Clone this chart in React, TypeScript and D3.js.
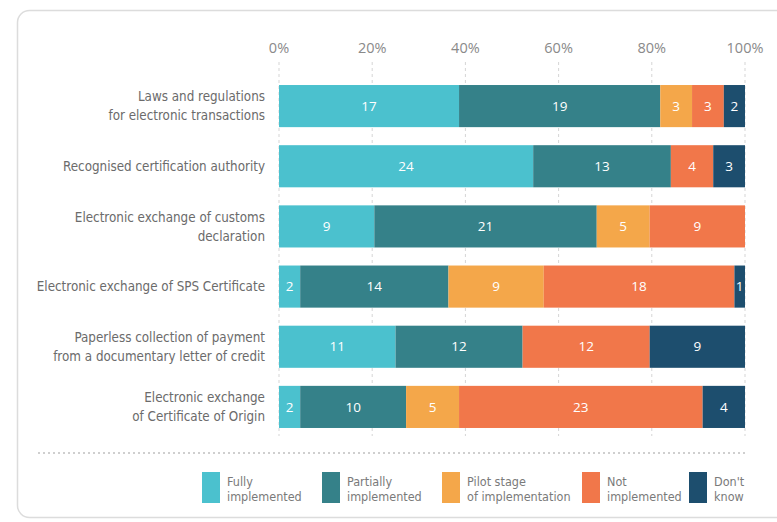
import React, {useEffect, useRef} from 'react';
import * as d3 from "d3";

const categories = [
  ["Laws and regulations", "for electronic transactions"],
  ["Recognised certification authority"],
  ["Electronic exchange of customs", "declaration"],
  ["Electronic exchange of SPS Certificate"],
  ["Paperless collection of payment", "from a documentary letter of credit"],
  ["Electronic exchange", "of Certificate of Origin"],
]

const seriesNames = ["Fully implemented", "Partially implemented", "Pilot stage of implementation", "Not implemented", "Don't know"]
const legendLines = [["Fully", "implemented"], ["Partially", "implemented"], ["Pilot stage", "of implementation"], ["Not", "implemented"], ["Don't", "know"]]
const colors = ["#4bc1ce", "#358189", "#f4a74a", "#f1774a", "#1d4e6e"]

const fully = [17, 24, 9, 2, 11, 2]
const partially = [19, 13, 21, 14, 12, 10]
const pilot = [3, 0, 5, 9, 0, 5]
const notImpl = [3, 4, 9, 18, 12, 23]
const dontKnow = [2, 3, 0, 1, 9, 4]

const tickValues = [0, 0.2, 0.4, 0.6, 0.8, 1]

const labelFont = "'DejaVu Sans Condensed', Roboto, sans-serif"
const numFont = "'Open Sans', sans-serif"

const App = () => {
  const chart = useRef(null)

  useEffect(() => {
    const width = 777
    const height = 522
    const left = 279
    const right = 745

    const svg = d3.select(chart.current)
      .attr("width", width)
      .attr("height", height)

    svg.selectAll("*").remove()

    // card
    svg.append("rect")
      .attr("x", 17.5).attr("y", 10.5)
      .attr("width", 820).attr("height", 507)
      .attr("rx", 12)
      .attr("fill", "#fff")
      .attr("stroke", "#dcdcdc")
      .attr("stroke-width", 1.5)

    const rows = categories.map((c, i) => ({
      label: c,
      values: [fully[i], partially[i], pilot[i], notImpl[i], dontKnow[i]],
    }))

    const x = d3.scaleLinear().domain([0, 1]).range([left, right])
    const y = d3.scaleBand().domain(d3.range(rows.length)).range([76, 437]).paddingInner(0.3).paddingOuter(0.15)

    const g = svg.append("g")

    // grid
    g.selectAll(".grid").data(tickValues).join("line")
      .attr("x1", d => x(d)).attr("x2", d => x(d))
      .attr("y1", 62).attr("y2", 436)
      .attr("stroke", "#d5d5d5")
      .attr("stroke-dasharray", "3,3")

    g.selectAll(".tick").data(tickValues).join("text")
      .attr("x", d => x(d))
      .attr("y", 53)
      .attr("text-anchor", "middle")
      .attr("font-family", numFont)
      .attr("font-size", 14.5)
      .attr("fill", "#8a8a8a")
      .text(d => d3.format(".0%")(d))

    rows.forEach((r, i) => {
      const total = d3.sum(r.values)
      let acc = 0
      const y0 = y(i)
      const bh = y.bandwidth()
      r.values.forEach((v, k) => {
        if (!v) return
        const x0 = x(acc / total)
        const x1 = x((acc + v) / total)
        acc += v
        g.append("rect")
          .attr("x", x0).attr("y", y0)
          .attr("width", x1 - x0).attr("height", bh)
          .attr("fill", colors[k])
        g.append("text")
          .attr("x", (x0 + x1) / 2)
          .attr("y", y0 + bh / 2)
          .attr("dy", "0.35em")
          .attr("text-anchor", "middle")
          .attr("font-family", numFont)
          .attr("font-size", 13.5)
          .attr("fill", "#fff")
          .text(v)
      })

      const lines = r.label
      const t = g.append("text")
        .attr("text-anchor", "end")
        .attr("font-family", labelFont)
        .attr("font-size", 13.3)
        .attr("fill", "#6b6b6b")
      lines.forEach((l, j) => {
        t.append("tspan")
          .attr("x", 265)
          .attr("y", y0 + bh / 2 + (j - (lines.length - 1) / 2) * 19)
          .attr("dy", "0.35em")
          .text(l)
      })
    })

    // dotted separator
    svg.append("line")
      .attr("x1", 38).attr("x2", 745)
      .attr("y1", 453).attr("y2", 453)
      .attr("stroke", "#cfcfcf")
      .attr("stroke-width", 2)
      .attr("stroke-dasharray", "2,3")

    const legendX = [202, 322, 442, 582, 689]
    const lg = svg.append("g")
    seriesNames.forEach((s, k) => {
      lg.append("rect")
        .attr("x", legendX[k]).attr("y", 472)
        .attr("width", 18).attr("height", 31)
        .attr("fill", colors[k])
      const t = lg.append("text")
        .attr("font-family", labelFont)
        .attr("font-size", 12.5)
        .attr("fill", "#7a7a7a")
      legendLines[k].forEach((l, j) => {
        t.append("tspan")
          .attr("x", legendX[k] + 25)
          .attr("y", 486 + j * 14.5)
          .text(l)
      })
    })
  }, [])

  return (
    <div style={{position: "absolute", left: 0, top: 0}}>
      <svg ref={chart}/>
    </div>
  )
}

export default App
